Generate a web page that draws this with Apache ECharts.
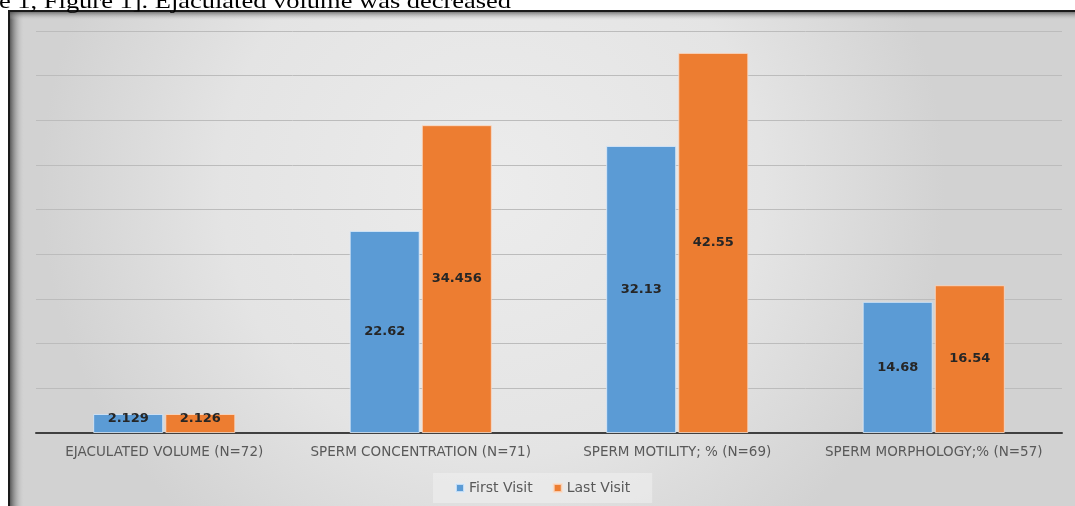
<!DOCTYPE html>
<html>
<head>
<meta charset="utf-8">
<style>
html,body{margin:0;padding:0;background:#fff;}
#c{width:1075px;height:506px;}
</style>
<script src="https://cdn.jsdelivr.net/npm/echarts@6/dist/echarts.min.js"></script>
</head>
<body>
<div id="c"></div>
<script>
const categories = ['EJACULATED VOLUME (N=72)', 'SPERM CONCENTRATION (N=71)', 'SPERM MOTILITY; % (N=69)', 'SPERM MORPHOLOGY;% (N=57)'];
const firstVisit = [2.129, 22.62, 32.13, 14.68];
const lastVisit = [2.126, 34.456, 42.55, 16.54];
const seriesNames = ['First Visit', 'Last Visit'];
const captionText = 'e 1, Figure 1]. Ejaculated volume was decreased';

const chart = echarts.init(document.getElementById('c'), null, {renderer: 'canvas'});

function toData(arr) {
  return arr.map((v, i) => i === 0 ? {value: v, label: {offset: [0, -5]}} : v);
}

const FONT = '"DejaVu Sans", Verdana, sans-serif';

const labelStyle = {
  show: true,
  position: 'inside',
  color: '#262626',
  fontWeight: 'bold',
  fontSize: 13,
  fontFamily: FONT
};

chart.setOption({
  animation: false,
  backgroundColor: '#ffffff',
  graphic: [
    {
      type: 'rect', z: -10, silent: true,
      shape: {x: 9, y: 11, width: 1075, height: 500},
      style: {
        fill: new echarts.graphic.RadialGradient(0.45, 0.35, 0.9, [
          {offset: 0, color: '#ececec'},
          {offset: 0.6, color: '#e4e4e4'},
          {offset: 1, color: '#d2d2d2'}
        ]),
        stroke: '#1a1a1a', lineWidth: 2
      }
    },
    {
      type: 'rect', z: -9, silent: true,
      shape: {x: 10, y: 12, width: 14, height: 494},
      style: {
        fill: new echarts.graphic.LinearGradient(0, 0, 1, 0, [
          {offset: 0, color: 'rgba(60,60,60,0.8)'},
          {offset: 1, color: 'rgba(200,200,200,0)'}
        ])
      }
    },
    {
      type: 'rect', z: -9, silent: true,
      shape: {x: 10, y: 12, width: 1065, height: 8},
      style: {
        fill: new echarts.graphic.LinearGradient(0, 0, 0, 1, [
          {offset: 0, color: 'rgba(80,80,80,0.7)'},
          {offset: 1, color: 'rgba(200,200,200,0)'}
        ])
      }
    },
    {
      type: 'text', silent: true,
      x: -1, y: -8, scaleX: 1.26,
      style: {
        text: captionText,
        fill: '#000',
        font: '21px "Liberation Serif", "DejaVu Serif", serif'
      }
    }
  ],
  grid: {left: 36, right: 13, top: 31, bottom: 73, containLabel: false},
  legend: {
    data: seriesNames,
    bottom: 3,
    left: 433,
    itemWidth: 8,
    itemHeight: 8,
    itemGap: 20,
    icon: 'rect',
    padding: [8, 22, 8, 22],
    backgroundColor: 'rgba(240,240,240,0.55)',
    textStyle: {color: '#595959', fontSize: 14, fontFamily: FONT}
  },
  xAxis: {
    type: 'category',
    data: categories,
    axisLine: {lineStyle: {color: '#404040', width: 2}},
    axisTick: {show: false},
    axisLabel: {color: '#595959', fontSize: 13.5, margin: 12, interval: 0, hideOverlap: false, fontFamily: FONT}
  },
  yAxis: {
    type: 'value',
    min: 0, max: 45, interval: 5,
    axisLabel: {show: false},
    axisLine: {show: false},
    axisTick: {show: false},
    splitLine: {lineStyle: {color: '#bcbcbc', width: 1}}
  },
  series: [
    {
      name: seriesNames[0], type: 'bar', data: toData(firstVisit),
      barWidth: 70, barGap: '3%',
      itemStyle: {color: '#5b9bd5', borderColor: 'rgba(220,235,250,0.8)', borderWidth: 1},
      label: labelStyle
    },
    {
      name: seriesNames[1], type: 'bar', data: toData(lastVisit),
      barWidth: 70, barGap: '3%',
      itemStyle: {color: '#ed7d31', borderColor: 'rgba(250,220,200,0.8)', borderWidth: 1},
      label: labelStyle
    }
  ]
});
</script>
</body>
</html>
